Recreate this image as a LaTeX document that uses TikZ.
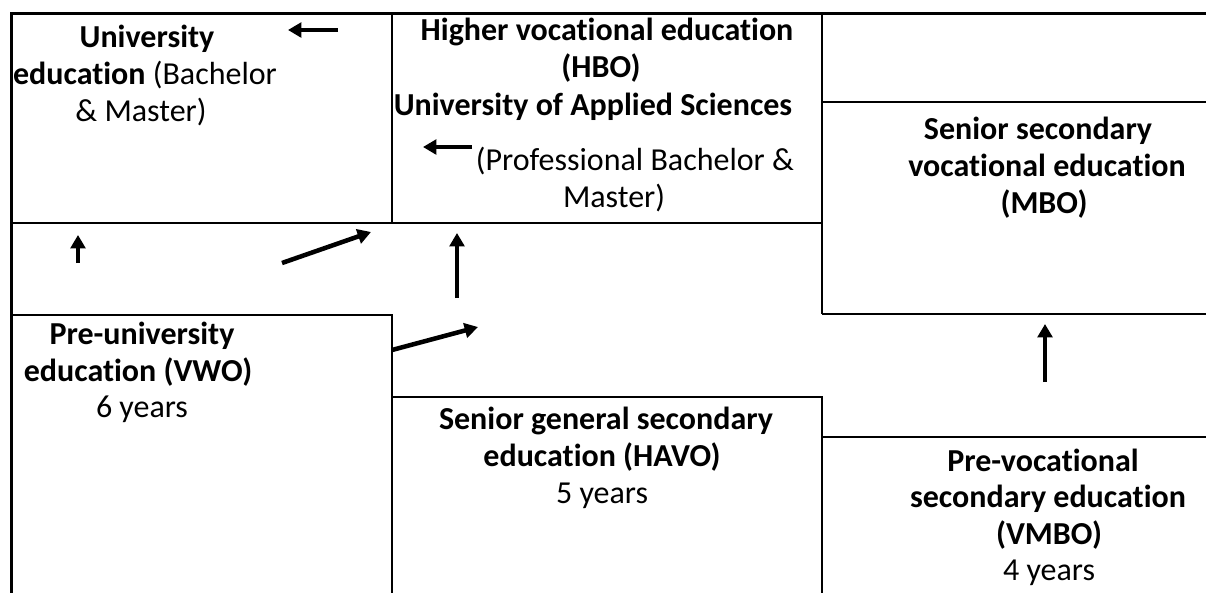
\documentclass[tikz,border=0pt]{standalone}
\usepackage{fontspec}
\setmainfont{Carlito}[Ligatures=NoCommon]
\usetikzlibrary{arrows.meta}
\begin{document}
\begin{tikzpicture}[x=0.75pt,y=-0.75pt,
  rulethin/.style={line width=1.5pt},
  rulethick/.style={line width=2.7pt},
  flow/.style={line width=3.4pt,-{Triangle[length=10pt,width=11pt]}},
  txt/.style={anchor=base,inner sep=0pt,font=\fontsize{24}{28}\selectfont}]
\useasboundingbox (0,0) rectangle (1206,593);

% table frame
\draw[rulethick] (10,13.5) -- (1206,13.5);
\draw[rulethick] (11.5,12) -- (11.5,593);
\draw[rulethin] (12,223) -- (822,223);
\draw[rulethin] (392,14) -- (392,223);
\draw[rulethin] (822,14) -- (822,314);
\draw[rulethin] (822,102) -- (1206,102);
\draw[rulethin] (822,314) -- (1206,314);
\draw[rulethin] (12,315) -- (392,315) -- (392,593);
\draw[rulethin] (392,397) -- (822,397) -- (822,593);
\draw[rulethin] (822,437) -- (1206,437);

% University education
\node[txt] (uni1) at (147,47) {\bfseries University};
\node[txt] (uni2) at (145,84) {\bfseries education \mdseries(Bachelor};
\node[txt] (uni3) at (141,121) {\& Master)};

% Higher vocational education
\node[txt] (hbo1) at (607,40) {\bfseries Higher vocational education};
\node[txt] (hbo2) at (601,77) {\bfseries (HBO)};
\node[txt] (hbo3) at (593,115) {\bfseries University of Applied Sciences};
\node[txt] (hbo4) at (635,170) {(Professional Bachelor \&};
\node[txt] (hbo5) at (614,207) {Master)};

% Senior secondary vocational education
\node[txt] (mbo1) at (1038,139) {\bfseries Senior secondary};
\node[txt] (mbo2) at (1047,176) {\bfseries vocational education};
\node[txt] (mbo3) at (1044,213) {\bfseries (MBO)};

% Pre-university education
\node[txt] (vwo1) at (142,344) {\bfseries Pre-university};
\node[txt] (vwo2) at (138,381) {\bfseries education (VWO)};
\node[txt] (vwo3) at (142,417) {6 years};

% Senior general secondary education
\node[txt] (havo1) at (606,429) {\bfseries Senior general secondary};
\node[txt] (havo2) at (602,466) {\bfseries education (HAVO)};
\node[txt] (havo3) at (602,503) {5 years};

% Pre-vocational secondary education
\node[txt] (vmbo1) at (1043,471) {\bfseries Pre-vocational};
\node[txt] (vmbo2) at (1048,507) {\bfseries secondary education};
\node[txt] (vmbo3) at (1049,544) {\bfseries (VMBO)};
\node[txt] (vmbo4) at (1049,580) {4 years};

% arrow end points
\coordinate (a1s) at (338,30);  \coordinate (a1e) at (288,30);
\coordinate (a2s) at (472,147); \coordinate (a2e) at (423,147);
\coordinate (a3s) at (78,263);  \coordinate (a3e) at (78,235);
\coordinate (a4s) at (282,263); \coordinate (a4e) at (371,232);
\coordinate (a5s) at (457,298); \coordinate (a5e) at (457,233);
\coordinate (a6s) at (392,350); \coordinate (a6e) at (478,327);
\coordinate (a7s) at (1045,382); \coordinate (a7e) at (1045,324);

\draw[flow] (a1s) -- (a1e);
\draw[flow] (a2s) -- (a2e);
\draw[flow] (a3s) -- (a3e);
\draw[flow] (a4s) -- (a4e);
\draw[flow] (a5s) -- (a5e);
\draw[flow] (a6s) -- (a6e);
\draw[flow] (a7s) -- (a7e);
\end{tikzpicture}
\end{document}
